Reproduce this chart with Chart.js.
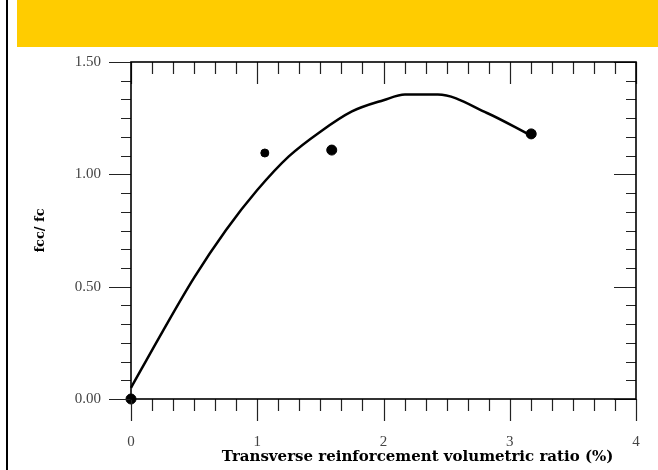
<!DOCTYPE html>
<html>
<head>
<meta charset="utf-8">
<script src="https://cdn.jsdelivr.net/npm/chart.js@4"></script>
<style>
    html, body { margin: 0; padding: 0; background: #ffffff; }
    #wrap { width: 658px; height: 470px; position: relative; }
</style>
</head>
<body>
<div id="wrap"><canvas id="chart" width="658" height="470"></canvas></div>
<script>
// Data
const curveX = [0, 0.25, 0.5, 0.75, 1.0, 1.25, 1.5, 1.75, 2.0, 2.17, 2.43, 2.82, 3.16];
const curveY = [0.05, 0.30, 0.54, 0.75, 0.93, 1.08, 1.19, 1.28, 1.33, 1.355, 1.355, 1.273, 1.175];
const testX = [0, 1.06, 1.59, 3.17];
const testY = [0, 1.095, 1.108, 1.18];
const xTicks = [0, 1, 2, 3, 4];
const yTicks = [0, 0.5, 1.0, 1.5];
const xTitle = 'Transverse reinforcement volumetric ratio (%)';

const serif = '"Liberation Serif", "DejaVu Serif", serif';
const titleFont = 'bold 15px "DejaVu Serif", serif';

// Background band, frame, tick marks and the x title
const framePlugin = {
    id: 'frame',
    beforeDraw(chart) {
        const ctx = chart.ctx;
        ctx.save();
        ctx.fillStyle = '#ffffff';
        ctx.fillRect(0, 0, chart.width, chart.height);
        ctx.fillStyle = '#ffcc00';
        ctx.fillRect(17, 0, chart.width - 17, 47);
        ctx.fillStyle = '#000000';
        ctx.fillRect(6, 0, 2, chart.height);
        ctx.restore();
    },
    afterDatasetsDraw(chart) {
        const ctx = chart.ctx;
        const x = chart.scales.x;
        const y = chart.scales.y;
        const a = chart.chartArea;
        ctx.save();
        ctx.strokeStyle = '#222222';
        ctx.lineWidth = 1.2;
        ctx.beginPath();
        // x ticks: bottom outward, top inward
        for (let i = 0; i <= 24; i++) {
            const v = i / 6;
            const px = Math.round(x.getPixelForValue(v)) + 0.5;
            const len = i % 6 === 0 ? 22 : 12;
            ctx.moveTo(px, a.bottom);
            ctx.lineTo(px, a.bottom + len);
            ctx.moveTo(px, a.top);
            ctx.lineTo(px, a.top + len);
        }
        // y ticks: left outward, right inward
        for (let i = 0; i <= 18; i++) {
            const v = i / 12;
            const py = Math.round(y.getPixelForValue(v)) + 0.5;
            const len = i % 6 === 0 ? 22 : 10;
            ctx.moveTo(a.left, py);
            ctx.lineTo(a.left - len, py);
            ctx.moveTo(a.right, py);
            ctx.lineTo(a.right - len, py);
        }
        ctx.stroke();
        ctx.strokeStyle = '#000000';
        ctx.lineWidth = 1.6;
        ctx.strokeRect(a.left, a.top, a.right - a.left, a.bottom - a.top);

        // x title sits a little right of the plot centre in the original
        ctx.fillStyle = '#000000';
        ctx.font = titleFont;
        ctx.textAlign = 'center';
        ctx.textBaseline = 'alphabetic';
        ctx.fillText(xTitle, x.getPixelForValue(2.27), 461);
        ctx.restore();
    }
};

function toPoints(xs, ys) {
    return xs.map((v, i) => ({ x: v, y: ys[i] }));
}

const ctx = document.getElementById('chart').getContext('2d');
new Chart(ctx, {
    type: 'scatter',
    data: {
        datasets: [
            {
                label: 'Model',
                data: toPoints(curveX, curveY),
                showLine: true,
                borderColor: '#000000',
                borderWidth: 2.5,
                pointRadius: 0,
                cubicInterpolationMode: 'monotone',
                clip: false
            },
            {
                label: 'Tests',
                data: toPoints(testX, testY),
                showLine: false,
                backgroundColor: '#000000',
                borderColor: '#000000',
                pointRadius: [5, 4, 5, 5],
                pointStyle: 'circle',
                clip: false
            }
        ]
    },
    options: {
        responsive: false,
        animation: false,
        events: [],
        layout: { padding: { top: 62, right: 22, left: 32, bottom: 0 } },
        plugins: {
            legend: { display: false },
            tooltip: { enabled: false }
        },
        scales: {
            x: {
                type: 'linear',
                min: 0,
                max: 4,
                afterFit(scale) {
                    scale.height = 71;
                    scale.paddingLeft = 0;
                    scale.paddingRight = 0;
                },
                afterBuildTicks(scale) { scale.ticks = xTicks.map(v => ({ value: v })); },
                grid: { display: false },
                border: { display: false },
                ticks: {
                    padding: 26,
                    color: '#444444',
                    font: { family: serif, size: 15 },
                    callback: v => String(v)
                },
                title: { display: false }
            },
            y: {
                type: 'linear',
                min: 0,
                max: 1.5,
                afterFit(scale) {
                    scale.width = 99;
                    scale.paddingTop = 0;
                    scale.paddingBottom = 0;
                },
                afterBuildTicks(scale) { scale.ticks = yTicks.map(v => ({ value: v })); },
                grid: { display: false },
                border: { display: false },
                ticks: {
                    padding: 22,
                    color: '#444444',
                    font: { family: serif, size: 15 },
                    callback: v => v.toFixed(2)
                },
                title: {
                    display: true,
                    text: 'fcc/ fc',
                    color: '#000000',
                    font: { family: '"DejaVu Serif", serif', size: 13, weight: 'bold' },
                    padding: { top: 1, bottom: 0 }
                }
            }
        }
    },
    plugins: [framePlugin]
});
</script>
</body>
</html>
